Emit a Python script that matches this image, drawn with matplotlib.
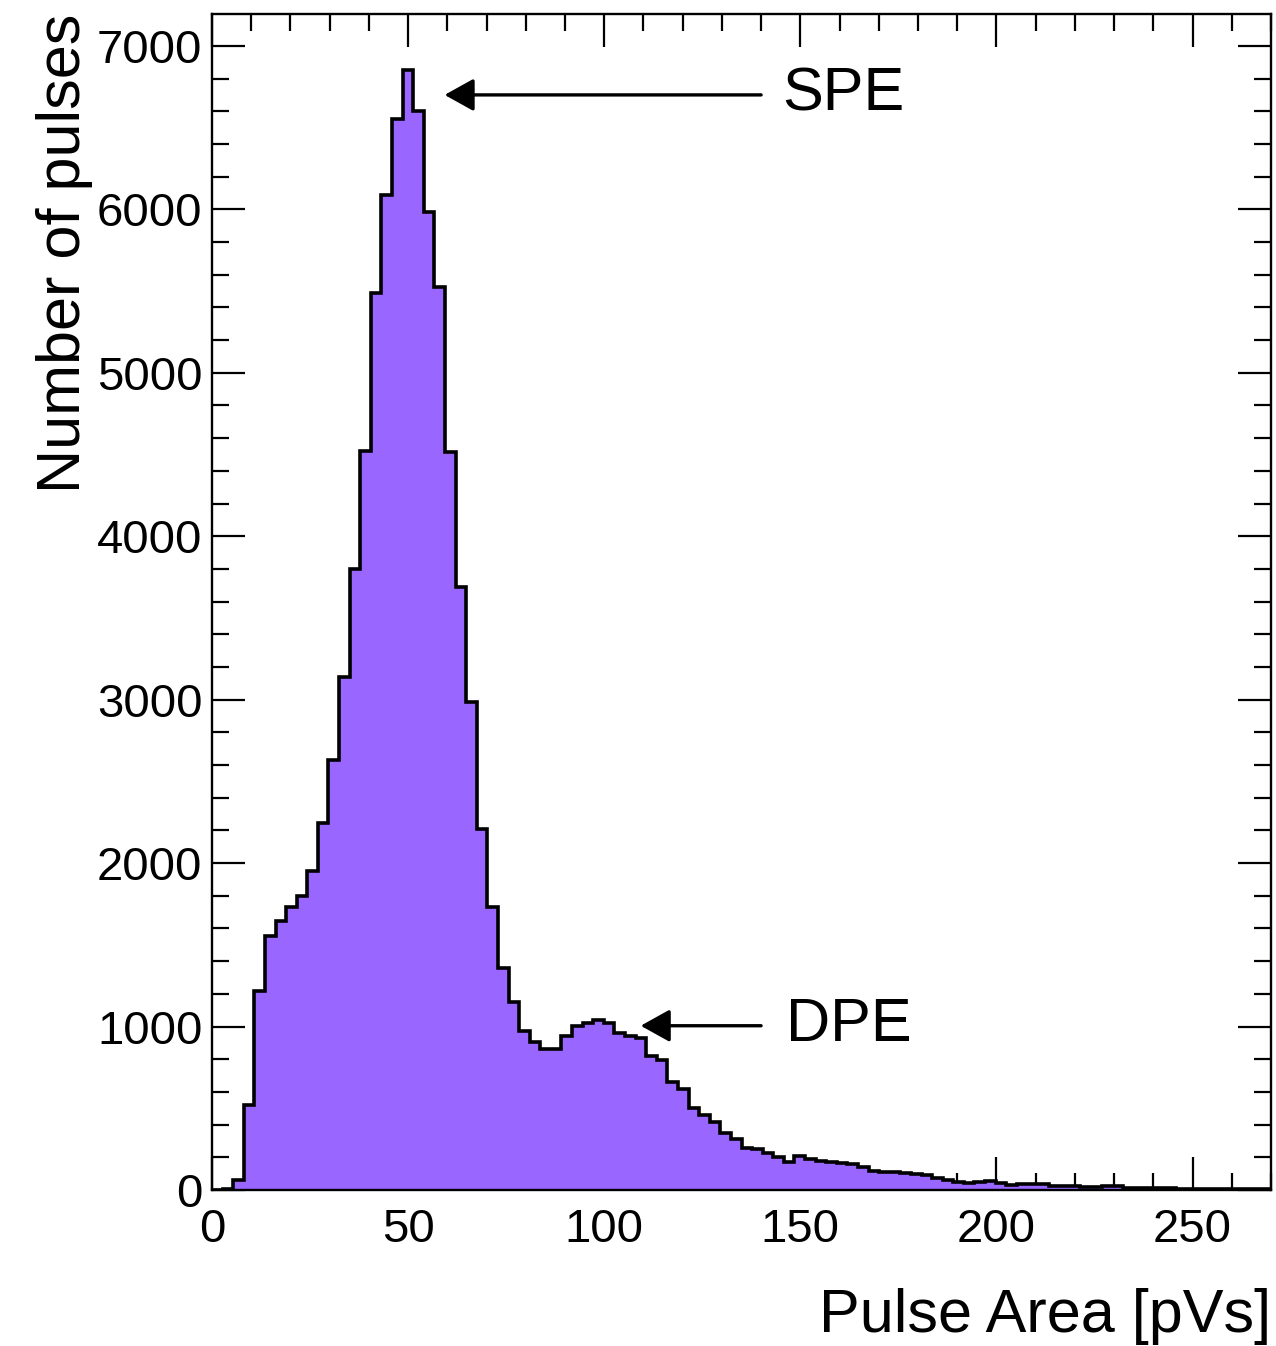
import numpy as np
import matplotlib
matplotlib.use("Agg")
import matplotlib.pyplot as plt

# ---- data -------------------------------------------------------------
bin_width = 2.7
n_bins = 100
counts = [
    0, 8, 61, 520, 1218, 1557, 1644, 1730, 1801, 1950,
    2244, 2632, 3140, 3802, 4523, 5491, 6087, 6554, 6850, 6599,
    5981, 5526, 4515, 3688, 2985, 2207, 1734, 1361, 1153, 973,
    904, 861, 865, 944, 1006, 1022, 1040, 1020, 959, 944,
    928, 822, 796, 663, 616, 500, 459, 416, 351, 310,
    255, 248, 225, 200, 174, 205, 192, 176, 174, 165,
    158, 138, 118, 111, 108, 103, 98, 90, 73, 63,
    47, 43, 51, 57, 43, 33, 39, 39, 38, 26,
    22, 22, 20, 17, 24, 22, 14, 12, 12, 10,
    10, 9, 8, 9, 7, 6, 6, 5, 5, 4,
]
x_ticks = [0, 50, 100, 150, 200, 250]
y_ticks = [0, 1000, 2000, 3000, 4000, 5000, 6000, 7000]
annotations = [("SPE", 59.3, 6700, 140.0, 6700, 145.3),
               ("DPE", 109.3, 1005, 140.0, 1005, 146.3)]

edges = np.arange(n_bins + 1) * bin_width

plt.rcParams['font.family'] = ['Liberation Sans', 'DejaVu Sans']

fig = plt.figure(figsize=(12.76, 13.46), dpi=100)
ax = fig.add_axes([212/1276, 1 - 1190/1346, 1059/1276, 1176/1346])

ax.stairs(counts, edges, fill=True, color='#9966ff', linewidth=0, zorder=2)
ax.stairs(counts, edges, fill=False, color='black', linewidth=2.6,
          baseline=0, zorder=3)

ax.set_xlim(0, n_bins * bin_width)
ax.set_ylim(0, 7195)

ax.set_xticks(x_ticks)
ax.set_yticks(y_ticks)
ax.set_xticks(np.arange(0, 271, 10), minor=True)
ax.set_yticks(np.arange(0, 7200, 200), minor=True)

ax.tick_params(which='both', direction='in', top=True, right=True,
               width=1.6, colors='black')
ax.tick_params(which='major', length=24)
ax.tick_params(which='minor', length=12)
ax.tick_params(axis='x', which='major', labelsize=34, pad=13)
ax.tick_params(axis='y', which='major', labelsize=34, pad=7)

for sp in ax.spines.values():
    sp.set_linewidth(1.7)

ax.set_xlabel('Pulse Area [pVs]', fontsize=44, loc='right')
ax.xaxis.set_label_coords(1.0, -0.083)
ax.set_ylabel('Number of pulses', fontsize=44, loc='top')
ax.yaxis.set_label_coords(-0.112, 1.0)

for label, tipx, tipy, tailx, taily, textx in annotations:
    ax.annotate('', xy=(tipx, tipy), xytext=(tailx, taily),
                arrowprops=dict(arrowstyle='-|>,head_length=1.8,head_width=1.0',
                                color='black', lw=2.4, shrinkA=0, shrinkB=0),
                zorder=5)
    ax.text(textx, taily, label, fontsize=44, ha='left', va='center',
            color='black', zorder=5)

fig.savefig('out.png', dpi=100)
